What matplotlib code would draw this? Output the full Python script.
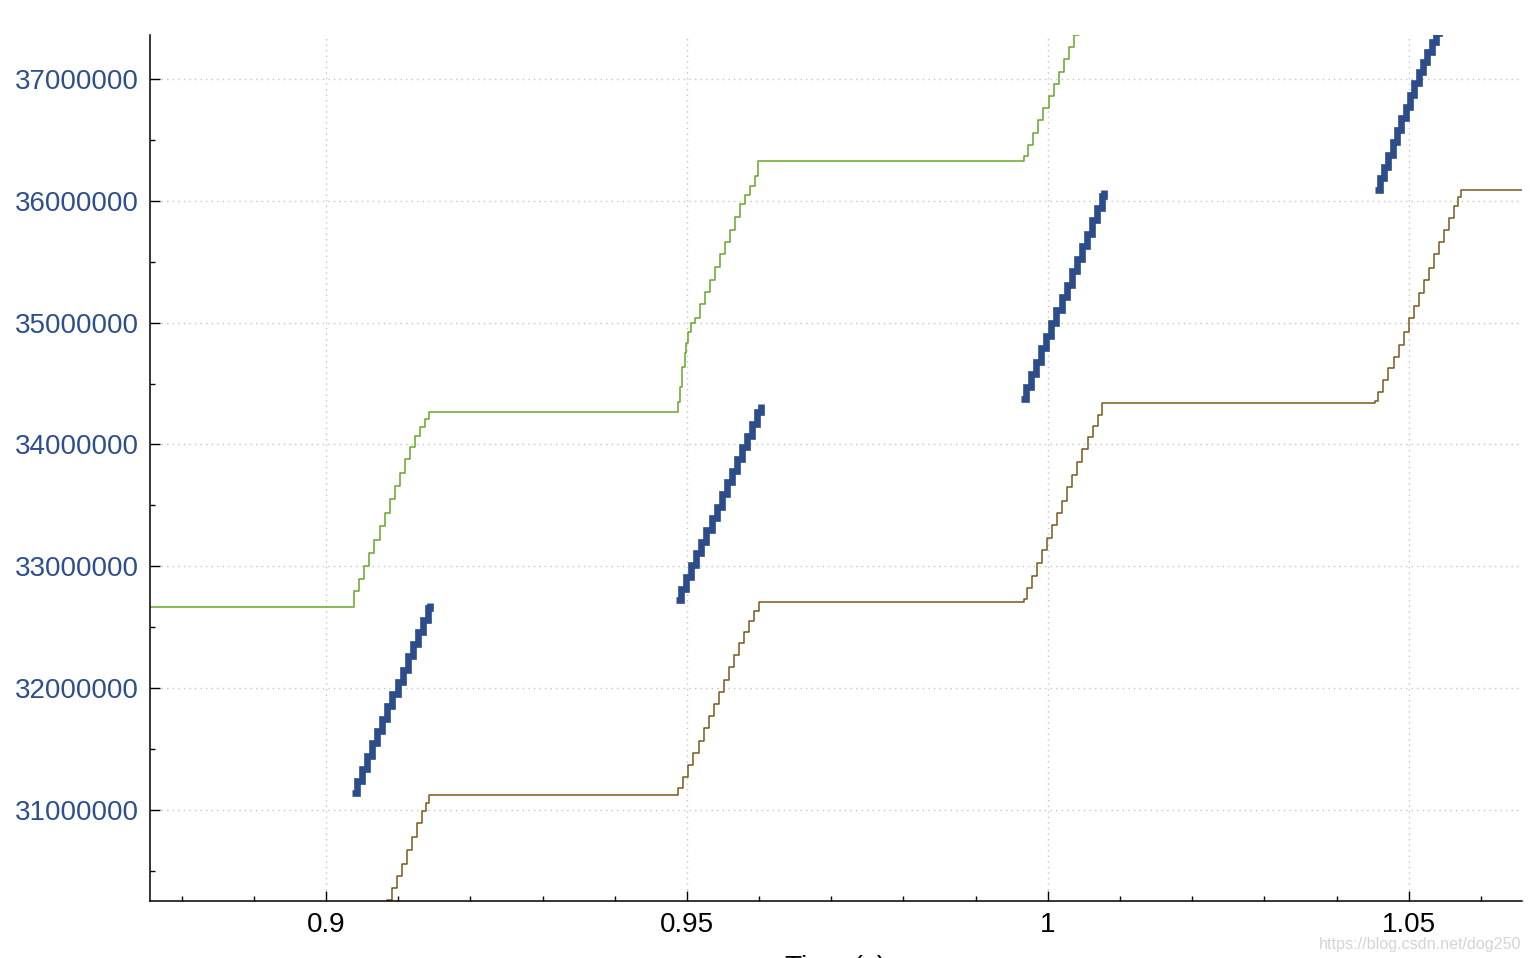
import numpy as np
import matplotlib
matplotlib.use("Agg")
import matplotlib.pyplot as plt
from matplotlib.ticker import MultipleLocator, FuncFormatter

plt.rcParams['font.family'] = ['Liberation Sans', 'DejaVu Sans']

# green: advertised window edge (values in millions)
green_t = [0.8756, 0.9039, 0.9046, 0.9053, 0.9060, 0.9067, 0.9074, 0.9081, 0.9088, 0.9095,
           0.9102, 0.9109, 0.9116, 0.9123, 0.9130, 0.9137, 0.9142,
           0.9488, 0.9491, 0.9493, 0.9497, 0.9499, 0.9502, 0.9506, 0.9511, 0.9518, 0.9525,
           0.9532, 0.9539, 0.9546, 0.9553, 0.9560, 0.9567, 0.9574, 0.9581, 0.9588, 0.9594, 0.9599,
           0.9967, 0.9973, 0.9980, 0.9987, 0.9994, 1.0001, 1.0008, 1.0015, 1.0022, 1.0029,
           1.0036, 1.0043]
green_y = [32.669, 32.80, 32.90, 33.00, 33.11, 33.22, 33.33, 33.44, 33.55, 33.66,
           33.77, 33.88, 33.98, 34.07, 34.14, 34.21, 34.264,
           34.35, 34.47, 34.64, 34.75, 34.83, 34.92, 35.00, 35.04, 35.15, 35.25,
           35.35, 35.46, 35.56, 35.66, 35.76, 35.87, 35.97, 36.05, 36.12, 36.20, 36.325,
           36.37, 36.46, 36.56, 36.66, 36.76, 36.86, 36.96, 37.06, 37.16, 37.26,
           37.36, 37.46]

# brown: acked sequence
brown_t = [0.9080, 0.9084, 0.9091, 0.9098, 0.9105, 0.9112, 0.9119, 0.9126, 0.9133, 0.9138, 0.9142,
           0.9488, 0.9495, 0.9502, 0.9509, 0.9516, 0.9523, 0.9530, 0.9537, 0.9544, 0.9551,
           0.9558, 0.9565, 0.9572, 0.9579, 0.9586, 0.9593, 0.9600,
           0.9967, 0.9971, 0.9978, 0.9985, 0.9992, 0.9999, 1.0006, 1.0013, 1.0020, 1.0027,
           1.0034, 1.0041, 1.0048, 1.0055, 1.0062, 1.0069, 1.0075,
           1.0453, 1.0458, 1.0465, 1.0472, 1.0479, 1.0486, 1.0493, 1.0500, 1.0507, 1.0514,
           1.0521, 1.0528, 1.0535, 1.0542, 1.0549, 1.0556, 1.0563, 1.0568, 1.0572, 1.0657]
brown_y = [30.15, 30.26, 30.36, 30.46, 30.56, 30.67, 30.78, 30.89, 30.99, 31.06, 31.123,
           31.18, 31.27, 31.37, 31.47, 31.57, 31.67, 31.77, 31.87, 31.97, 32.07,
           32.17, 32.27, 32.37, 32.46, 32.55, 32.63, 32.707,
           32.73, 32.82, 32.92, 33.03, 33.13, 33.23, 33.34, 33.44, 33.54, 33.65,
           33.75, 33.86, 33.96, 34.06, 34.15, 34.24, 34.343,
           34.36, 34.43, 34.53, 34.63, 34.72, 34.82, 34.92, 35.04, 35.14, 35.24,
           35.35, 35.45, 35.56, 35.66, 35.76, 35.86, 35.96, 36.03, 36.089, 36.089]

# blue: data segments sent, four bursts
blue_t = [
    [0.9036, 0.9043, 0.9050, 0.9057, 0.9064, 0.9071, 0.9078, 0.9085, 0.9092, 0.9099,
     0.9106, 0.9113, 0.9120, 0.9127, 0.9134, 0.9141, 0.9144],
    [0.9485, 0.9492, 0.9499, 0.9506, 0.9513, 0.9520, 0.9527, 0.9534, 0.9541, 0.9548,
     0.9555, 0.9562, 0.9569, 0.9576, 0.9583, 0.9590, 0.9597, 0.9602],
    [0.9963, 0.9970, 0.9977, 0.9984, 0.9991, 0.9998, 1.0005, 1.0012, 1.0019, 1.0026,
     1.0033, 1.0040, 1.0047, 1.0054, 1.0061, 1.0068, 1.0075, 1.0078],
    [1.0454, 1.0460, 1.0466, 1.0472, 1.0478, 1.0484, 1.0490, 1.0496, 1.0502, 1.0508,
     1.0514, 1.0520, 1.0526, 1.0532, 1.0538, 1.0542],
]
blue_y = [
    [31.14, 31.24, 31.34, 31.44, 31.55, 31.65, 31.75, 31.85, 31.95, 32.05,
     32.15, 32.26, 32.36, 32.46, 32.56, 32.66, 32.70],
    [32.72, 32.81, 32.91, 33.01, 33.11, 33.20, 33.30, 33.40, 33.49, 33.59,
     33.69, 33.78, 33.88, 33.98, 34.07, 34.17, 34.27, 34.33],
    [34.37, 34.47, 34.58, 34.68, 34.79, 34.89, 35.00, 35.10, 35.21, 35.31,
     35.42, 35.52, 35.63, 35.73, 35.84, 35.94, 36.04, 36.09],
    [36.09, 36.19, 36.28, 36.38, 36.48, 36.58, 36.68, 36.77, 36.87, 36.97,
     37.06, 37.14, 37.22, 37.30, 37.38, 37.45],
]

GREEN = "#66a52a"
BROWN = "#7b581a"
BLUE = "#2c4d89"

fig = plt.figure(figsize=(15.3, 9.58), dpi=100)
ax = fig.add_axes([150 / 1530, 1 - 901 / 958, 1372 / 1530, 866 / 958])

ax.plot(green_t, np.array(green_y) * 1e6, drawstyle="steps-post", color=GREEN, lw=1.1)
ax.plot(brown_t, np.array(brown_y) * 1e6, drawstyle="steps-post", color=BROWN, lw=1.1)
for bt, by in zip(blue_t, blue_y):
    ax.plot(bt, np.array(by) * 1e6, drawstyle="steps-post", color=BLUE, lw=4.8,
            solid_joinstyle="miter", solid_capstyle="butt")

ax.set_xlim(0.8756, 1.0657)
ax.set_ylim(30.253e6, 37.361e6)

ax.xaxis.set_major_locator(MultipleLocator(0.05))
ax.xaxis.set_minor_locator(MultipleLocator(0.01))
ax.yaxis.set_major_locator(MultipleLocator(1e6))
ax.yaxis.set_minor_locator(MultipleLocator(0.5e6))
ax.xaxis.set_major_formatter(FuncFormatter(lambda v, p: f"{v:g}"))
ax.yaxis.set_major_formatter(FuncFormatter(lambda v, p: f"{v:.0f}"))

ax.tick_params(which="major", direction="in", length=7, width=1, labelsize=20, pad=8)
ax.tick_params(which="minor", direction="in", length=3.3, width=1)
ax.tick_params(axis="y", labelcolor="#2d4f8e")
ax.grid(True, which="major", color="#c4c4c4", linestyle=(0, (1, 3)), lw=1)

for s in ["top", "right"]:
    ax.spines[s].set_visible(False)
for s in ["left", "bottom"]:
    ax.spines[s].set_linewidth(1.1)

ax.set_xlabel("Time (s)", fontsize=20, labelpad=12)

fig.text(1521 / 1530, 1 - 944 / 958, "https://blog.csdn.net/dog250", ha="right", va="center",
         fontsize=11.6, color="#d4d4d4")

fig.savefig("out.png", dpi=100)
